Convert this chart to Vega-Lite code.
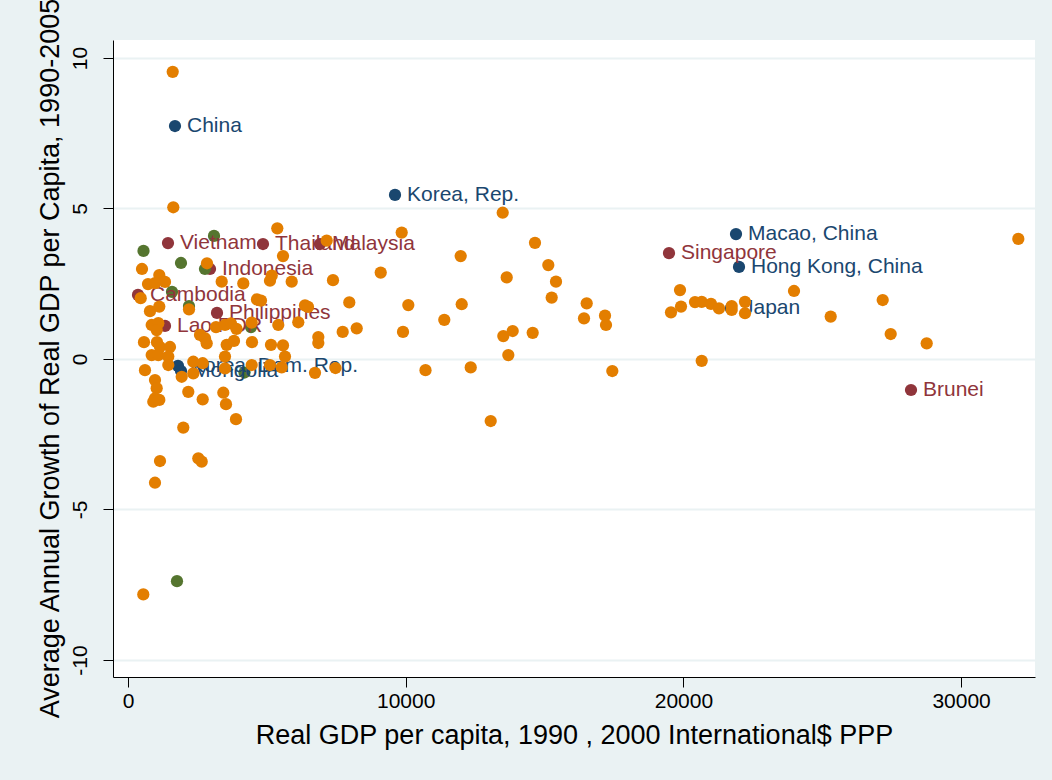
{
  "$schema": "https://vega.github.io/schema/vega-lite/v6.json",
  "width": 922,
  "height": 637,
  "autosize": {"type": "none"},
  "padding": {"left": 113, "top": 40, "right": 17, "bottom": 103},
  "background": "#EAF2F3",
  "config": {
    "view": {"stroke": null, "fill": "white"},
    "font": "Liberation Sans"
  },
  "data": {
    "values": [
      {"label": "China", "gdp": 1692, "growth": 7.74, "region": "East Asia"},
      {"label": "Korea, Rep.", "gdp": 9615, "growth": 5.45, "region": "East Asia"},
      {"label": "Macao, China", "gdp": 21894, "growth": 4.15, "region": "East Asia"},
      {"label": "Hong Kong, China", "gdp": 22002, "growth": 3.06, "region": "East Asia"},
      {"label": "Japan", "gdp": 21714, "growth": 1.69, "region": "East Asia"},
      {"label": "Korea, Dem. Rep.", "gdp": 1800, "growth": -0.23, "region": "East Asia"},
      {"label": "Mongolia", "gdp": 1909, "growth": -0.4, "region": "East Asia"},
      {"label": "Vietnam", "gdp": 1440, "growth": 3.85, "region": "Southeast Asia"},
      {"label": "Thailand", "gdp": 4861, "growth": 3.82, "region": "Southeast Asia"},
      {"label": "Malaysia", "gdp": 6914, "growth": 3.82, "region": "Southeast Asia"},
      {"label": "Indonesia", "gdp": 2953, "growth": 2.99, "region": "Southeast Asia"},
      {"label": "Cambodia", "gdp": 360, "growth": 2.13, "region": "Southeast Asia"},
      {"label": "Philippines", "gdp": 3205, "growth": 1.53, "region": "Southeast Asia"},
      {"label": "Lao PDR", "gdp": 1332, "growth": 1.1, "region": "Southeast Asia"},
      {"label": "Singapore", "gdp": 19481, "growth": 3.52, "region": "Southeast Asia"},
      {"label": "Brunei", "gdp": 28196, "growth": -1.03, "region": "Southeast Asia"},
      {"label": "", "gdp": 558, "growth": 3.59, "region": "South Asia"},
      {"label": "", "gdp": 3097, "growth": 4.09, "region": "South Asia"},
      {"label": "", "gdp": 1908, "growth": 3.19, "region": "South Asia"},
      {"label": "", "gdp": 2772, "growth": 2.99, "region": "South Asia"},
      {"label": "", "gdp": 1584, "growth": 2.23, "region": "South Asia"},
      {"label": "", "gdp": 2196, "growth": 1.76, "region": "South Asia"},
      {"label": "", "gdp": 4429, "growth": 1.06, "region": "South Asia"},
      {"label": "", "gdp": 4195, "growth": -0.45, "region": "South Asia"},
      {"label": "", "gdp": 1764, "growth": -7.38, "region": "South Asia"},
      {"label": "", "gdp": 1610, "growth": 9.54, "region": "Other"},
      {"label": "", "gdp": 1631, "growth": 5.04, "region": "Other"},
      {"label": "", "gdp": 5376, "growth": 4.34, "region": "Other"},
      {"label": "", "gdp": 9856, "growth": 4.2, "region": "Other"},
      {"label": "", "gdp": 504, "growth": 2.99, "region": "Other"},
      {"label": "", "gdp": 1127, "growth": 2.79, "region": "Other"},
      {"label": "", "gdp": 720, "growth": 2.49, "region": "Other"},
      {"label": "", "gdp": 972, "growth": 2.52, "region": "Other"},
      {"label": "", "gdp": 1332, "growth": 2.56, "region": "Other"},
      {"label": "", "gdp": 2845, "growth": 3.18, "region": "Other"},
      {"label": "", "gdp": 5582, "growth": 3.42, "region": "Other"},
      {"label": "", "gdp": 7155, "growth": 3.93, "region": "Other"},
      {"label": "", "gdp": 3374, "growth": 2.57, "region": "Other"},
      {"label": "", "gdp": 4152, "growth": 2.51, "region": "Other"},
      {"label": "", "gdp": 5175, "growth": 2.77, "region": "Other"},
      {"label": "", "gdp": 5113, "growth": 2.6, "region": "Other"},
      {"label": "", "gdp": 5895, "growth": 2.57, "region": "Other"},
      {"label": "", "gdp": 7382, "growth": 2.62, "region": "Other"},
      {"label": "", "gdp": 9100, "growth": 2.87, "region": "Other"},
      {"label": "", "gdp": 457, "growth": 2.02, "region": "Other"},
      {"label": "", "gdp": 1127, "growth": 1.74, "region": "Other"},
      {"label": "", "gdp": 792, "growth": 1.59, "region": "Other"},
      {"label": "", "gdp": 2197, "growth": 1.65, "region": "Other"},
      {"label": "", "gdp": 4645, "growth": 1.98, "region": "Other"},
      {"label": "", "gdp": 4789, "growth": 1.94, "region": "Other"},
      {"label": "", "gdp": 6374, "growth": 1.78, "region": "Other"},
      {"label": "", "gdp": 6482, "growth": 1.73, "region": "Other"},
      {"label": "", "gdp": 7969, "growth": 1.88, "region": "Other"},
      {"label": "", "gdp": 10094, "growth": 1.79, "region": "Other"},
      {"label": "", "gdp": 5412, "growth": 1.13, "region": "Other"},
      {"label": "", "gdp": 6132, "growth": 1.22, "region": "Other"},
      {"label": "", "gdp": 7731, "growth": 0.9, "region": "Other"},
      {"label": "", "gdp": 8236, "growth": 1.02, "region": "Other"},
      {"label": "", "gdp": 9903, "growth": 0.9, "region": "Other"},
      {"label": "", "gdp": 853, "growth": 1.13, "region": "Other"},
      {"label": "", "gdp": 1091, "growth": 1.19, "region": "Other"},
      {"label": "", "gdp": 1033, "growth": 0.96, "region": "Other"},
      {"label": "", "gdp": 2593, "growth": 0.8, "region": "Other"},
      {"label": "", "gdp": 3169, "growth": 1.06, "region": "Other"},
      {"label": "", "gdp": 3493, "growth": 1.13, "region": "Other"},
      {"label": "", "gdp": 3709, "growth": 1.18, "region": "Other"},
      {"label": "", "gdp": 3907, "growth": 1.0, "region": "Other"},
      {"label": "", "gdp": 4454, "growth": 1.21, "region": "Other"},
      {"label": "", "gdp": 4465, "growth": 0.56, "region": "Other"},
      {"label": "", "gdp": 576, "growth": 0.56, "region": "Other"},
      {"label": "", "gdp": 1044, "growth": 0.56, "region": "Other"},
      {"label": "", "gdp": 1152, "growth": 0.4, "region": "Other"},
      {"label": "", "gdp": 1512, "growth": 0.4, "region": "Other"},
      {"label": "", "gdp": 2773, "growth": 0.69, "region": "Other"},
      {"label": "", "gdp": 2834, "growth": 0.52, "region": "Other"},
      {"label": "", "gdp": 3554, "growth": 0.47, "region": "Other"},
      {"label": "", "gdp": 3817, "growth": 0.6, "region": "Other"},
      {"label": "", "gdp": 5149, "growth": 0.47, "region": "Other"},
      {"label": "", "gdp": 5582, "growth": 0.45, "region": "Other"},
      {"label": "", "gdp": 6853, "growth": 0.73, "region": "Other"},
      {"label": "", "gdp": 6853, "growth": 0.53, "region": "Other"},
      {"label": "", "gdp": 853, "growth": 0.13, "region": "Other"},
      {"label": "", "gdp": 1091, "growth": 0.13, "region": "Other"},
      {"label": "", "gdp": 1451, "growth": 0.08, "region": "Other"},
      {"label": "", "gdp": 1451, "growth": -0.2, "region": "Other"},
      {"label": "", "gdp": 612, "growth": -0.37, "region": "Other"},
      {"label": "", "gdp": 1934, "growth": -0.59, "region": "Other"},
      {"label": "", "gdp": 2351, "growth": -0.09, "region": "Other"},
      {"label": "", "gdp": 2690, "growth": -0.14, "region": "Other"},
      {"label": "", "gdp": 2351, "growth": -0.48, "region": "Other"},
      {"label": "", "gdp": 3493, "growth": 0.08, "region": "Other"},
      {"label": "", "gdp": 3493, "growth": -0.31, "region": "Other"},
      {"label": "", "gdp": 4454, "growth": -0.2, "region": "Other"},
      {"label": "", "gdp": 5113, "growth": -0.2, "region": "Other"},
      {"label": "", "gdp": 5535, "growth": -0.28, "region": "Other"},
      {"label": "", "gdp": 5654, "growth": 0.08, "region": "Other"},
      {"label": "", "gdp": 972, "growth": -0.7, "region": "Other"},
      {"label": "", "gdp": 1033, "growth": -0.97, "region": "Other"},
      {"label": "", "gdp": 972, "growth": -1.31, "region": "Other"},
      {"label": "", "gdp": 911, "growth": -1.42, "region": "Other"},
      {"label": "", "gdp": 1127, "growth": -1.36, "region": "Other"},
      {"label": "", "gdp": 2171, "growth": -1.09, "region": "Other"},
      {"label": "", "gdp": 2690, "growth": -1.34, "region": "Other"},
      {"label": "", "gdp": 3432, "growth": -1.12, "region": "Other"},
      {"label": "", "gdp": 3529, "growth": -1.5, "region": "Other"},
      {"label": "", "gdp": 3889, "growth": -2.0, "region": "Other"},
      {"label": "", "gdp": 1991, "growth": -2.28, "region": "Other"},
      {"label": "", "gdp": 1152, "growth": -3.39, "region": "Other"},
      {"label": "", "gdp": 972, "growth": -4.11, "region": "Other"},
      {"label": "", "gdp": 2532, "growth": -3.3, "region": "Other"},
      {"label": "", "gdp": 2654, "growth": -3.41, "region": "Other"},
      {"label": "", "gdp": 551, "growth": -7.82, "region": "Other"},
      {"label": "", "gdp": 10713, "growth": -0.37, "region": "Other"},
      {"label": "", "gdp": 6734, "growth": -0.46, "region": "Other"},
      {"label": "", "gdp": 7472, "growth": -0.3, "region": "Other"},
      {"label": "", "gdp": 13493, "growth": 4.86, "region": "Other"},
      {"label": "", "gdp": 11980, "growth": 3.42, "region": "Other"},
      {"label": "", "gdp": 14656, "growth": 3.86, "region": "Other"},
      {"label": "", "gdp": 13637, "growth": 2.71, "region": "Other"},
      {"label": "", "gdp": 15135, "growth": 3.12, "region": "Other"},
      {"label": "", "gdp": 15412, "growth": 2.57, "region": "Other"},
      {"label": "", "gdp": 15257, "growth": 2.04, "region": "Other"},
      {"label": "", "gdp": 12017, "growth": 1.82, "region": "Other"},
      {"label": "", "gdp": 11390, "growth": 1.3, "region": "Other"},
      {"label": "", "gdp": 13515, "growth": 0.76, "region": "Other"},
      {"label": "", "gdp": 13853, "growth": 0.93, "region": "Other"},
      {"label": "", "gdp": 14573, "growth": 0.87, "region": "Other"},
      {"label": "", "gdp": 13695, "growth": 0.13, "region": "Other"},
      {"label": "", "gdp": 16518, "growth": 1.85, "region": "Other"},
      {"label": "", "gdp": 16421, "growth": 1.35, "region": "Other"},
      {"label": "", "gdp": 17177, "growth": 1.44, "region": "Other"},
      {"label": "", "gdp": 17213, "growth": 1.13, "region": "Other"},
      {"label": "", "gdp": 12341, "growth": -0.28, "region": "Other"},
      {"label": "", "gdp": 17440, "growth": -0.4, "region": "Other"},
      {"label": "", "gdp": 13061, "growth": -2.06, "region": "Other"},
      {"label": "", "gdp": 20659, "growth": -0.06, "region": "Other"},
      {"label": "", "gdp": 19878, "growth": 2.29, "region": "Other"},
      {"label": "", "gdp": 19553, "growth": 1.55, "region": "Other"},
      {"label": "", "gdp": 19914, "growth": 1.74, "region": "Other"},
      {"label": "", "gdp": 20418, "growth": 1.89, "region": "Other"},
      {"label": "", "gdp": 20659, "growth": 1.9, "region": "Other"},
      {"label": "", "gdp": 20994, "growth": 1.83, "region": "Other"},
      {"label": "", "gdp": 21282, "growth": 1.68, "region": "Other"},
      {"label": "", "gdp": 21739, "growth": 1.76, "region": "Other"},
      {"label": "", "gdp": 21739, "growth": 1.63, "region": "Other"},
      {"label": "", "gdp": 22218, "growth": 1.9, "region": "Other"},
      {"label": "", "gdp": 22218, "growth": 1.52, "region": "Other"},
      {"label": "", "gdp": 23983, "growth": 2.26, "region": "Other"},
      {"label": "", "gdp": 25304, "growth": 1.41, "region": "Other"},
      {"label": "", "gdp": 27177, "growth": 1.96, "region": "Other"},
      {"label": "", "gdp": 27465, "growth": 0.83, "region": "Other"},
      {"label": "", "gdp": 28761, "growth": 0.52, "region": "Other"},
      {"label": "", "gdp": 32060, "growth": 3.99, "region": "Other"}
    ]
  },
  "encoding": {
    "x": {
      "field": "gdp",
      "type": "quantitative",
      "scale": {"domain": [-540, 32661], "nice": false, "zero": false},
      "axis": {
        "title": "Real GDP per capita, 1990 , 2000 International$ PPP",
        "values": [0, 10000, 20000, 30000],
        "labelExpr": "'' + datum.value",
        "grid": false,
        "domainColor": "#000000",
        "domainWidth": 1,
        "tickColor": "#000000",
        "tickSize": 10,
        "labelFont": "Liberation Sans",
        "labelFontSize": 21,
        "labelColor": "#000000",
        "labelPadding": 3,
        "titleFont": "Liberation Sans",
        "titleFontSize": 27,
        "titleFontWeight": "normal",
        "titleColor": "#000000",
        "titleBaseline": "middle",
        "titleY": 58
      }
    },
    "y": {
      "field": "growth",
      "type": "quantitative",
      "scale": {"domain": [-10.565, 10.598], "nice": false, "zero": false},
      "axis": {
        "title": "Average Annual Growth of Real GDP per Capita, 1990-2005",
        "values": [-10, -5, 0, 5, 10],
        "labelExpr": "'' + datum.value",
        "grid": true,
        "gridColor": "#EAF2F3",
        "gridWidth": 2,
        "domainColor": "#000000",
        "domainWidth": 1,
        "tickColor": "#000000",
        "tickSize": 10,
        "labelAngle": 270,
        "labelAlign": "center",
        "labelBaseline": "middle",
        "labelPadding": 23,
        "labelFont": "Liberation Sans",
        "labelFontSize": 21,
        "labelColor": "#000000",
        "titleFont": "Liberation Sans",
        "titleFontSize": 27,
        "titleFontWeight": "normal",
        "titleColor": "#000000",
        "titleAngle": 270,
        "titleBaseline": "middle",
        "titleAlign": "center",
        "titleX": -63,
        "titleY": 318
      }
    },
    "color": {
      "field": "region",
      "type": "nominal",
      "scale": {
        "domain": ["East Asia", "Southeast Asia", "South Asia", "Other"],
        "range": ["#1a476f", "#90353b", "#55752f", "#e37e00"]
      },
      "legend": null
    }
  },
  "layer": [
    {
      "transform": [{"filter": "datum.region != 'Other'"}],
      "mark": {"type": "point", "filled": true, "shape": "circle", "size": 150, "opacity": 1, "strokeWidth": 0}
    },
    {
      "transform": [{"filter": "datum.label != ''"}],
      "mark": {"type": "text", "align": "left", "baseline": "middle", "dx": 12, "fontSize": 21, "font": "Liberation Sans"},
      "encoding": {"text": {"field": "label"}}
    },
    {
      "transform": [{"filter": "datum.region == 'Other'"}],
      "mark": {"type": "point", "filled": true, "shape": "circle", "size": 150, "opacity": 1, "strokeWidth": 0}
    }
  ]
}
